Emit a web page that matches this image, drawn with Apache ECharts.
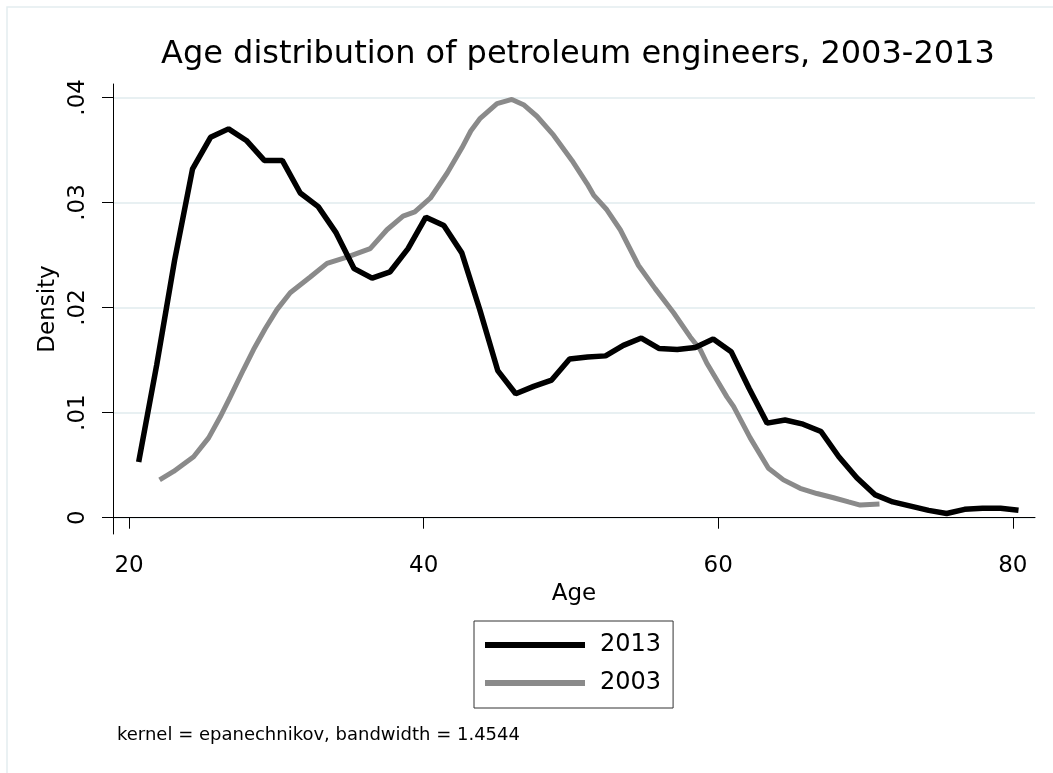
<!DOCTYPE html>
<html>
<head>
<meta charset="utf-8">
<script src="https://cdn.jsdelivr.net/npm/echarts@6/dist/echarts.min.js"></script>
<style>
  html, body { margin: 0; padding: 0; background: #fff; }
  #chart { width: 1053px; height: 773px; }
</style>
</head>
<body>
<div id="chart"></div>
<script>
// ages / densities
const age2013 = [20.65, 21.87, 23.09, 24.31, 25.53, 26.75, 27.96, 29.18, 30.40, 31.62,
  32.84, 34.06, 35.28, 36.50, 37.72, 38.94, 40.15, 41.37, 42.59, 43.81,
  45.03, 46.25, 47.47, 48.69, 49.91, 51.13, 52.35, 53.56, 54.78, 56.00,
  57.22, 58.44, 59.66, 60.88, 62.10, 63.32, 64.54, 65.76, 66.98, 68.19,
  69.41, 70.63, 71.85, 73.07, 74.29, 75.51, 76.73, 77.95, 79.17, 80.39];
const dens2013 = [0.0053, 0.0145, 0.0245, 0.0332, 0.0362, 0.0370, 0.0359, 0.0340, 0.0340, 0.0309,
  0.0296, 0.0271, 0.0237, 0.0228, 0.0234, 0.0256, 0.0286, 0.0278, 0.0252, 0.0198,
  0.0140, 0.0118, 0.0125, 0.0131, 0.0151, 0.0153, 0.0154, 0.0164, 0.0171, 0.0161,
  0.0160, 0.0162, 0.0170, 0.0158, 0.0123, 0.0090, 0.0093, 0.0089, 0.0082, 0.0058,
  0.0038, 0.0022, 0.0015, 0.0011, 0.0007, 0.0004, 0.0008, 0.0009, 0.0009, 0.0007];

const age2003 = [22.07, 23.02, 24.38, 25.40, 26.19, 26.87, 27.77, 28.45, 29.25, 30.04,
  30.94, 32.30, 33.44, 34.79, 36.37, 37.51, 38.60, 39.40, 40.45, 41.60,
  42.60, 43.20, 43.84, 44.98, 45.99, 46.78, 47.69, 48.82, 50.07, 51.09,
  51.54, 52.44, 53.35, 54.59, 55.72, 56.97, 58.10, 58.78, 59.23, 59.91,
  60.59, 61.04, 62.17, 63.41, 64.43, 65.56, 66.70, 67.83, 68.85, 69.64, 70.95];
const dens2003 = [0.0036, 0.0044, 0.0058, 0.0076, 0.0096, 0.0115, 0.0141, 0.0160, 0.0180, 0.0198,
  0.0214, 0.0229, 0.0242, 0.0248, 0.0256, 0.0274, 0.0287, 0.0291, 0.0304, 0.0328,
  0.0352, 0.0368, 0.0380, 0.0394, 0.0398, 0.0393, 0.0382, 0.0364, 0.0340, 0.0318,
  0.0307, 0.0293, 0.0274, 0.0240, 0.0218, 0.0195, 0.0172, 0.0160, 0.0147, 0.0131,
  0.0115, 0.0106, 0.0076, 0.0047, 0.0036, 0.0028, 0.0023, 0.0019, 0.0015, 0.0012, 0.0013];

const xTicks = [20, 40, 60, 80];
const yTicks = [0, 0.01, 0.02, 0.03, 0.04];
const yTickLabels = ['0', '.01', '.02', '.03', '.04'];

const FONT = 'DejaVu Sans';

var myChart = echarts.init(document.getElementById('chart'), null, { renderer: 'canvas' });

myChart.setOption({
    backgroundColor: '#fff',
    animation: false,
    title: [
        {
            text: 'Age distribution of petroleum engineers, 2003-2013',
            left: 161,
            top: 39,
            padding: 0,
            textStyle: { fontFamily: FONT, fontSize: 32, fontWeight: 'normal', color: '#000' }
        },
        {
            text: 'kernel = epanechnikov, bandwidth = 1.4544',
            left: 117,
            top: 726,
            padding: 0,
            textStyle: { fontFamily: FONT, fontSize: 18, fontWeight: 'normal', color: '#000' }
        }
    ],
    // light frame round the graph region
    graphic: [{
        type: 'rect',
        shape: { x: 7, y: 7, width: 1200, height: 900 },
        style: { fill: 'none', stroke: '#e4edef', lineWidth: 1.5 },
        silent: true,
        z: -1
    }],
    grid: {
        left: 113,
        right: 18,
        top: 84,
        bottom: 239,
        containLabel: false
    },
    xAxis: {
        type: 'value',
        min: 18.907,
        max: 81.51,
        name: 'Age',
        nameLocation: 'middle',
        nameGap: 46,
        nameTextStyle: { fontFamily: FONT, fontSize: 23, color: '#000' },
        axisLine: { show: true, lineStyle: { color: '#000', width: 1 } },
        axisTick: { show: true, length: 11, customValues: xTicks, lineStyle: { color: '#000' } },
        axisLabel: { customValues: xTicks, margin: 21, fontFamily: FONT, fontSize: 23, color: '#000' },
        splitLine: { show: false }
    },
    yAxis: {
        type: 'value',
        min: -0.00155,
        max: 0.04127,
        name: 'Density',
        nameLocation: 'middle',
        nameGap: 49,
        nameTextStyle: { fontFamily: FONT, fontSize: 23, color: '#000' },
        axisLine: { show: true, lineStyle: { color: '#000', width: 1 } },
        axisTick: { show: true, length: 11, customValues: yTicks, lineStyle: { color: '#000' } },
        axisLabel: {
            customValues: yTicks,
            rotate: 90,
            margin: 23,
            fontFamily: FONT,
            fontSize: 23,
            color: '#000',
            formatter: function (value) {
                var i = yTicks.findIndex(v => Math.abs(v - value) < 1e-9);
                return i >= 0 ? yTickLabels[i] : '';
            }
        },
        splitLine: { show: true, lineStyle: { color: '#e8f0f2', width: 2 } }
    },
    legend: {
        show: true,
        orient: 'vertical',
        left: 474,
        top: 621,
        padding: [11, 12, 12, 11],
        icon: 'rect',
        itemWidth: 100,
        itemHeight: 6,
        itemGap: 12,
        borderColor: '#333',
        borderWidth: 1,
        textStyle: { fontFamily: FONT, fontSize: 24, lineHeight: 26, color: '#000', padding: [0, 0, 0, 10] },
        data: ['2013', '2003']
    },
    series: [
        {
            name: '2013',
            type: 'line',
            symbol: 'none',
            data: age2013.map((a, i) => [a, dens2013[i]]),
            lineStyle: { color: '#000', width: 5.5 },
            itemStyle: { color: '#000' },
            z: 3
        },
        {
            name: '2003',
            type: 'line',
            symbol: 'none',
            data: age2003.map((a, i) => [a, dens2003[i]]),
            lineStyle: { color: '#8a8a8a', width: 5 },
            itemStyle: { color: '#8a8a8a' },
            z: 2
        }
    ]
});
</script>
</body>
</html>
